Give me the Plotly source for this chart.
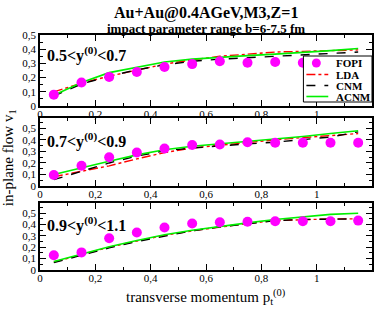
import plotly.graph_objects as go

pt = [0.05, 0.15, 0.25, 0.35, 0.45, 0.55, 0.65, 0.75, 0.85, 0.95, 1.05, 1.15]

fopi1 = [0.08, 0.165, 0.205, 0.24, 0.275, 0.295, 0.315, 0.305, 0.31, 0.305, 0.31, 0.31]
lda1 = [0.10, 0.16, 0.21, 0.255, 0.295, 0.325, 0.35, 0.365, 0.38, 0.385, 0.39, 0.395]
cnm1 = [0.07, 0.155, 0.21, 0.255, 0.29, 0.315, 0.33, 0.34, 0.35, 0.36, 0.37, 0.38]
acnm1 = [0.075, 0.165, 0.235, 0.275, 0.31, 0.33, 0.345, 0.355, 0.365, 0.375, 0.39, 0.405]

fopi2 = [0.095, 0.175, 0.25, 0.29, 0.325, 0.355, 0.36, 0.38, 0.375, 0.375, 0.375, 0.375]
lda2 = [0.08, 0.13, 0.175, 0.235, 0.29, 0.33, 0.355, 0.38, 0.40, 0.42, 0.44, 0.455]
cnm2 = [0.055, 0.13, 0.20, 0.26, 0.305, 0.33, 0.35, 0.365, 0.38, 0.40, 0.425, 0.47]
acnm2 = [0.10, 0.16, 0.215, 0.27, 0.315, 0.345, 0.365, 0.385, 0.41, 0.43, 0.455, 0.48]

fopi3 = [0.13, 0.155, 0.28, 0.33, 0.375, 0.41, 0.42, 0.425, 0.43, 0.43, 0.43, 0.435]
lda3 = [0.07, 0.135, 0.20, 0.255, 0.305, 0.345, 0.38, 0.41, 0.435, 0.445, 0.45, 0.45]
cnm3 = [0.065, 0.13, 0.195, 0.25, 0.30, 0.345, 0.38, 0.41, 0.435, 0.445, 0.45, 0.45]
acnm3 = [0.075, 0.14, 0.205, 0.26, 0.31, 0.35, 0.385, 0.415, 0.445, 0.47, 0.49, 0.50]

panel_labels = ["0.5&lt;y<sup>(0)</sup>&lt;0.7", "0.7&lt;y<sup>(0)</sup>&lt;0.9", "0.9&lt;y<sup>(0)</sup>&lt;1.1"]
series_names = ["FOPI", "LDA", "CNM", "ACNM"]

SERIF = "Liberation Serif"
H = 235.0
W = 334.0
def py(yimg):
    return (270 - yimg) / H
def px(ximg):
    return (ximg - 40) / W

domains = [[py(106), 1.0], [py(186), py(118)], [0.0, py(203)]]
yranges = [[0, 0.5], [0, 0.59], [0, 0.59]]
label_y = [54, 140, 224]

RED = "#ff0000"
GREEN = "#00f000"
MAG = "#ff00ff"

fig = go.Figure()
data = [(fopi1, lda1, cnm1, acnm1), (fopi2, lda2, cnm2, acnm2), (fopi3, lda3, cnm3, acnm3)]
for i, (f, l, c, a) in enumerate(data):
    sx = "x" if i == 0 else f"x{i+1}"
    sy = "y" if i == 0 else f"y{i+1}"
    fig.add_trace(go.Scatter(x=pt, y=l, mode="lines", name="LDA",
                             line=dict(color=RED, dash="dashdot", width=1.4), xaxis=sx, yaxis=sy))
    fig.add_trace(go.Scatter(x=pt, y=c, mode="lines", name="CNM",
                             line=dict(color="#000000", dash="dash", width=1.4), xaxis=sx, yaxis=sy))
    fig.add_trace(go.Scatter(x=pt, y=a, mode="lines", name="ACNM",
                             line=dict(color=GREEN, width=1.6), xaxis=sx, yaxis=sy))
    fig.add_trace(go.Scatter(x=pt, y=f, mode="markers", name="FOPI",
                             marker=dict(color=MAG, size=10), xaxis=sx, yaxis=sy))

axis_common = dict(showline=True, linecolor="black", linewidth=1.5, mirror="ticks",
                   ticks="inside", tickcolor="black", showgrid=False, zeroline=False,
                   tickfont=dict(family=SERIF, size=11, color="black"))
layout = dict(
    width=376, height=312,
    margin=dict(l=40, r=2, t=35, b=42),
    paper_bgcolor="white", plot_bgcolor="white",
    separators=",.",
    showlegend=False,
)
for i in range(3):
    kx = "xaxis" if i == 0 else f"xaxis{i+1}"
    ky = "yaxis" if i == 0 else f"yaxis{i+1}"
    ax = "y" if i == 0 else f"y{i+1}"
    axx = "x" if i == 0 else f"x{i+1}"
    layout[kx] = dict(axis_common, domain=[0, 1], range=[0, 1.2], anchor=ax,
                      tickvals=[0, 0.2, 0.4, 0.6, 0.8, 1.0], ticklen=6, ticklabelstandoff=-3,
                      minor=dict(tickvals=[0.1, 0.3, 0.5, 0.7, 0.9, 1.1], ticklen=3, ticks="inside", tickcolor="black"))
    layout[ky] = dict(axis_common, domain=domains[i], range=yranges[i], anchor=axx,
                      tickvals=[0, 0.1, 0.2, 0.3, 0.4, 0.5], ticklen=6,
                      minor=dict(tickvals=[0.05, 0.15, 0.25, 0.35, 0.45, 0.55], ticklen=3, ticks="inside", tickcolor="black"))
fig.update_layout(**layout)

# manual legend box (inside top panel)
shapes = []
L, R, T, B = 305, 374, 56, 102
shapes.append(dict(type="rect", xref="paper", yref="paper", x0=px(L), x1=px(R), y0=py(B), y1=py(T),
                   fillcolor="white", line=dict(color="black", width=1), layer="above"))
rows = [63, 74.5, 85.5, 96.5]
styles = [None, dict(color=RED, dash="dashdot", width=1.4), dict(color="black", dash="dash", width=1.4),
          dict(color=GREEN, width=1.6)]
rr = 4.5
shapes.append(dict(type="circle", xref="paper", yref="paper", x0=px(318 - rr), x1=px(318 + rr),
                   y0=py(rows[0] + rr), y1=py(rows[0] - rr), fillcolor=MAG, line=dict(color=MAG, width=0),
                   layer="above"))
for k in range(1, 4):
    shapes.append(dict(type="line", xref="paper", yref="paper", x0=px(308), x1=px(330),
                       y0=py(rows[k]), y1=py(rows[k]), line=styles[k], layer="above"))
fig.update_layout(shapes=shapes)

ann = []
for k, nm in enumerate(series_names):
    ann.append(dict(text=nm, x=px(336), y=py(rows[k]), xref="paper", yref="paper",
                    xanchor="left", yanchor="middle", showarrow=False,
                    font=dict(family=SERIF, size=11, color="black", weight="bold")))
for i in range(3):
    ann.append(dict(text=panel_labels[i], x=px(45), y=py(label_y[i]), xref="paper", yref="paper",
                    xanchor="left", yanchor="middle", showarrow=False,
                    font=dict(family=SERIF, size=16, color="black", weight="bold")))
ann.append(dict(text="Au+Au@0.4AGeV,M3,Z=1", x=px(207), y=py(13), xref="paper", yref="paper",
                xanchor="center", yanchor="middle", showarrow=False,
                font=dict(family=SERIF, size=16, color="black", weight="bold")))
ann.append(dict(text="impact parameter range b=6-7.5 fm", x=px(207), y=py(28), xref="paper", yref="paper",
                xanchor="center", yanchor="middle", showarrow=False,
                font=dict(family=SERIF, size=13, color="black", weight="bold")))
ann.append(dict(text="transverse momentum p<sub>t</sub><sup>(0)</sup>", x=px(207), y=py(297), xref="paper", yref="paper",
                xanchor="center", yanchor="middle", showarrow=False,
                font=dict(family=SERIF, size=15, color="black")))
ann.append(dict(text="in-plane flow v<sub>1</sub>", x=px(9), y=py(158), xref="paper", yref="paper",
                xanchor="center", yanchor="middle", showarrow=False, textangle=-90,
                font=dict(family=SERIF, size=15, color="black")))
fig.update_layout(annotations=ann)

fig.write_html("out.html", config={"displayModeBar": False},
               post_script="document.body.style.margin='0';document.body.style.overflow='hidden';")
